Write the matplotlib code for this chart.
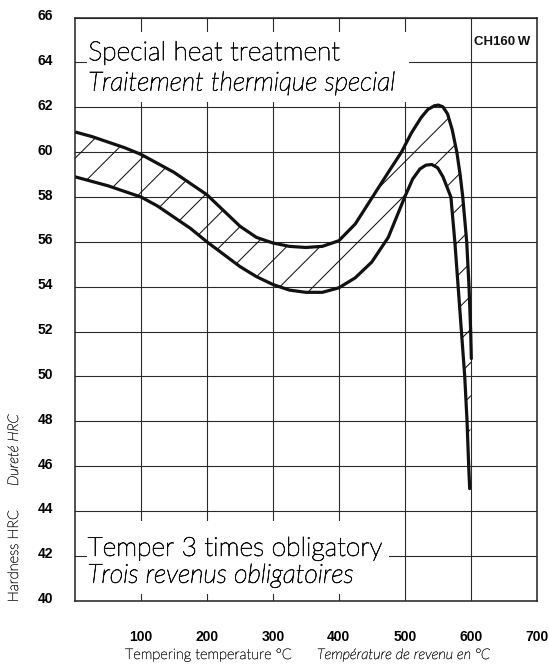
import matplotlib
matplotlib.use("Agg")
import matplotlib.pyplot as plt
from matplotlib.patches import Polygon, Rectangle
from matplotlib.transforms import ScaledTranslation
import matplotlib.patheffects as pe

# ---- data ----
upper_x = [0, 25, 50, 75, 100, 125, 150, 175, 200, 225, 250, 275, 300, 325, 350, 375,
           400, 425, 450, 475, 495, 510, 525, 535, 545, 551, 558, 565, 572, 579, 584, 588,
           594, 597.5, 600, 601]
upper_y = [60.9, 60.7, 60.45, 60.2, 59.9, 59.5, 59.1, 58.6, 58.1, 57.4, 56.7, 56.2, 55.95, 55.8, 55.75, 55.8,
           56.05, 56.8, 57.95, 59.1, 60.0, 60.85, 61.55, 61.9, 62.07, 62.1, 62.02, 61.7, 61.0, 60.0, 59.0, 58.0,
           56.0, 54.0, 52.0, 50.8]

lower_x = [0, 25, 50, 75, 100, 125, 150, 175, 200, 225, 250, 275, 300, 325, 350, 375,
           400, 425, 450, 475, 500, 512, 523, 532, 541, 550, 558, 564, 570, 573, 576, 581, 586,
           591, 594.5, 597, 598.5]
lower_y = [58.9, 58.7, 58.5, 58.25, 58.0, 57.6, 57.1, 56.6, 56.0, 55.45, 54.9, 54.45, 54.1, 53.85, 53.75, 53.75,
           53.95, 54.4, 55.1, 56.2, 58.0, 58.8, 59.25, 59.42, 59.45, 59.3, 58.9, 58.45, 58.0, 57.0, 56.0, 54.0, 52.0,
           50.0, 48.0, 46.0, 45.0]

x_ticks = [100, 200, 300, 400, 500, 600, 700]
y_ticks = [40, 42, 44, 46, 48, 50, 52, 54, 56, 58, 60, 62, 64, 66]

title_en = "Special heat treatment"
title_fr = "Traitement thermique special"
note_en = "Temper 3 times obligatory"
note_fr = "Trois revenus obligatoires"
grade = "CH160\u2009W"
xlabel_en = "Tempering temperature °C"
xlabel_fr = "Température de revenu en °C"
ylabel_en = "Hardness HRC"
ylabel_fr = "Dureté HRC"

# ---- styling ----
LIGHT = ["Lato", "DejaVu Sans"]
BOLD = ["Liberation Sans", "DejaVu Sans"]
TXT = "#111111"
big_fx = [pe.withStroke(linewidth=0.55, foreground=TXT)]
small_fx = [pe.withStroke(linewidth=0.3, foreground="#333333")]
plt.rcParams["hatch.linewidth"] = 0.75

fig = plt.figure(figsize=(5.49, 6.69), dpi=100)
ax = fig.add_axes([75.1 / 549, 1 - 600.7 / 669, 461.5 / 549, (600.7 - 17.6) / 669])
ax.set_xlim(0, 700)
ax.set_ylim(40, 66)
ax.set_xticks(x_ticks)
ax.set_yticks(y_ticks)
ax.grid(True, color="#2a2a2a", linewidth=0.8, zorder=0)
ax.set_axisbelow(True)
for s in ax.spines.values():
    s.set_linewidth(1.1)
    s.set_color("#222222")
    s.set_zorder(6)
ax.tick_params(axis="both", length=0)
ax.tick_params(axis="y", pad=16)
ax.tick_params(axis="x", pad=21)
for lab in ax.get_yticklabels():
    lab.set_fontfamily(BOLD)
    lab.set_fontweight("bold")
    lab.set_fontsize(10)
    lab.set_transform(lab.get_transform() + ScaledTranslation(0, 3 / 100, fig.dpi_scale_trans))
for lab in ax.get_xticklabels():
    lab.set_fontfamily(BOLD)
    lab.set_fontweight("bold")
    lab.set_fontsize(10)

# white panels behind the texts (interrupt the grid)
ax.add_patch(Rectangle((18.5, 62.25), 507 - 18.5, 65.35 - 62.25, facecolor="white",
                       edgecolor="none", zorder=1))
ax.add_patch(Rectangle((17.5, 40.3), 476 - 17.5, 43.55 - 40.3, facecolor="white",
                       edgecolor="none", zorder=1))

# hatched band
band = list(zip(upper_x, upper_y)) + list(zip(lower_x, lower_y))[::-1]
ax.add_patch(Polygon(band, closed=True, facecolor="none", edgecolor="#111111",
                     linewidth=0, hatch="/", zorder=2))
ax.plot(upper_x, upper_y, color="#111111", linewidth=2.3, solid_capstyle="round",
        solid_joinstyle="round", zorder=3)
ax.plot(lower_x, lower_y, color="#111111", linewidth=2.3, solid_capstyle="round",
        solid_joinstyle="round", zorder=3)

# texts
kw_big = dict(family=LIGHT, fontweight="light", fontsize=19, va="baseline", ha="left",
              color=TXT, zorder=4, path_effects=big_fx)
ax.text(20, 64.1, title_en, **kw_big)
ax.text(20, 62.75, title_fr, style="italic", **kw_big)
ax.text(19, 42.0, note_en, **kw_big)
ax.text(19, 40.8, note_fr, style="italic", **kw_big)
ax.text(648, 64.9, grade, family=BOLD, fontweight="bold", fontsize=9.5,
        va="center", ha="center", color="#111111", zorder=4)

kw_small = dict(family=LIGHT, fontweight="light", fontsize=10.5, color="#333333",
                path_effects=small_fx)
fig.text(125 / 549, 1 - 659 / 669, xlabel_en, ha="left", va="baseline", **kw_small)
fig.text(317 / 549, 1 - 659 / 669, xlabel_fr, style="italic", ha="left", va="baseline", **kw_small)
fig.text(14 / 549, 1 - 556 / 669, ylabel_en, rotation=90, ha="center", va="center", **kw_small)
fig.text(14 / 549, 1 - 450 / 669, ylabel_fr, style="italic", rotation=90, ha="center",
         va="center", **kw_small)

fig.savefig("out.png", dpi=100)
